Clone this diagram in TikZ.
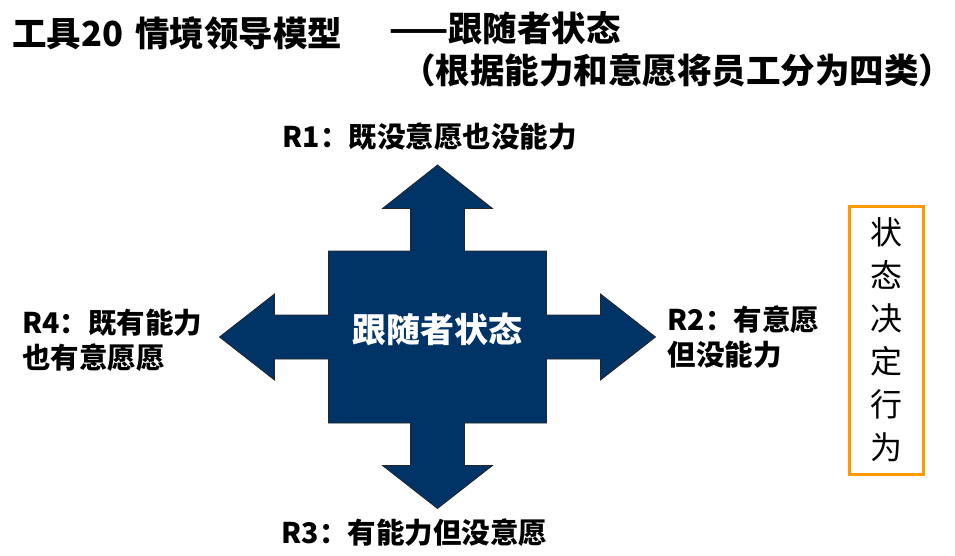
\documentclass[tikz,border=0pt]{standalone}
\usepackage{fontspec}
\setmainfont{Noto Sans CJK SC}
\definecolor{fsnavy}{HTML}{003366}
\definecolor{fsorange}{HTML}{FF9900}
\usepackage{tikz}
\usetikzlibrary{positioning}

\begin{document}
\begin{tikzpicture}[x=1pt, y=-1pt,
  heading/.style={font=\fontsize{34.5}{42}\selectfont\bfseries, inner sep=0pt},
  lbl/.style={font=\fontsize{28.5}{35}\selectfont\bfseries, align=left, inner sep=0pt},
  cross/.style={fill=fsnavy, draw=black!85, line width=0.8pt},
  verdict/.style={draw=fsorange, line width=3pt, minimum width=74pt, minimum height=268pt,
                  align=center, font=\fontsize{32}{43}\selectfont, inner sep=0pt},
]
  \useasboundingbox (0,0) rectangle (955,556);

  % title lines
  \node[heading, anchor=west] (title) at (12,33) {工具20\hspace{12pt}情境领导模型};
  \node[heading, anchor=west] (subtitle) at (389,28) {——跟随者状态};
  \node[heading, anchor=west] (note) at (401,70) {（根据能力和意愿将员工分为四类）};

  % four-way arrow
  \draw[cross] (437.5,165) -- (492.5,208.5) -- (464.5,208.5) -- (464.5,251)
    -- (546.5,251) -- (546.5,315) -- (600.5,315) -- (600.5,294) -- (655.5,337)
    -- (600.5,380) -- (600.5,359) -- (546.5,359) -- (546.5,423) -- (464.5,423)
    -- (464.5,465.5) -- (492.5,465.5) -- (437.5,508.5) -- (382.5,465.5)
    -- (410.5,465.5) -- (410.5,423) -- (328.5,423) -- (328.5,359) -- (274.5,359)
    -- (274.5,380) -- (219.5,337) -- (274.5,294) -- (274.5,315) -- (328.5,315)
    -- (328.5,251) -- (410.5,251) -- (410.5,208.5) -- (382.5,208.5) -- cycle;
  \node[font=\fontsize{34}{40}\selectfont\bfseries, text=white] (core) at (437.5,329) {跟随者状态};

  \coordinate (tipN) at (437.5,165);
  \coordinate (tipS) at (437.5,508.5);
  \coordinate (tipE) at (655.5,337);
  \coordinate (tipW) at (219.5,337);

  % follower states
  \node[lbl, above=14pt of tipN, xshift=-8pt] (r1) {R1：既没意愿也没能力};
  \node[lbl, right=12pt of tipE] (r2) {R2：有意愿\\但没能力};
  \node[lbl, below=10pt of tipS, xshift=-23pt] (r3) {R3：有能力但没意愿};
  \node[lbl, anchor=west] (r4) at (22,340) {R4：既有能力\\也有意愿愿};

  \node[verdict] (rule) at (886,340) {状\\态\\决\\定\\行\\为};
\end{tikzpicture}
\end{document}
